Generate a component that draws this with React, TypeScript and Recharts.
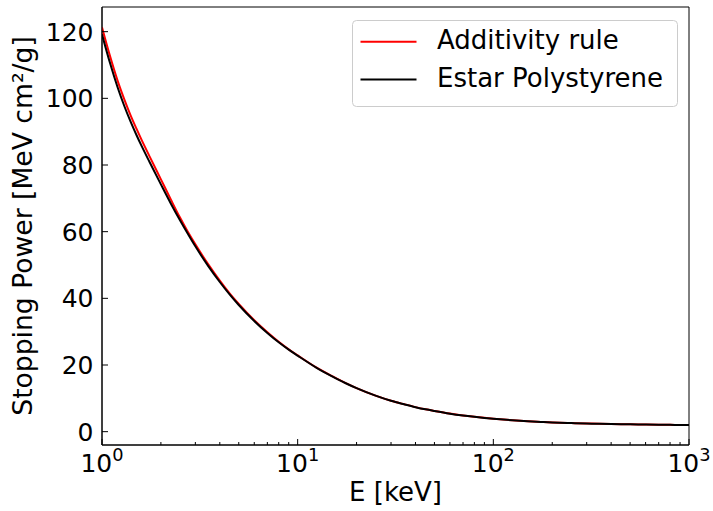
import React from 'react';
import { LineChart, Line, XAxis, YAxis, Legend, ReferenceArea, Label } from 'recharts';

// ---- data ----
const energies = [1, 1.1, 1.2, 1.3, 1.4, 1.5, 1.6, 1.75, 2, 2.25, 2.5, 2.75, 3, 3.5, 4, 4.5, 5, 6, 7, 8, 9, 10, 12.5, 15, 17.5, 20, 25, 30, 35, 40, 45, 50, 60, 70, 80, 90, 100, 125, 150, 175, 200, 250, 300, 350, 400, 450, 500, 600, 700, 800, 900, 1000];

const estarPolystyrene = [119.2, 110.5, 103.4, 97.7, 93.0, 89.0, 85.5, 80.9, 74.2, 68.4, 63.5, 59.3, 55.6, 49.6, 44.9, 41.1, 38.0, 33.2, 29.6, 26.8, 24.6, 22.8, 19.15, 16.6, 14.6, 13.05, 10.8, 9.25, 8.2, 7.35, 6.7, 6.2, 5.4, 4.85, 4.45, 4.13, 3.88, 3.42, 3.12, 2.92, 2.77, 2.57, 2.44, 2.35, 2.28, 2.23, 2.19, 2.13, 2.08, 2.04, 2.01, 1.98];

const additivityRule = [121.3, 112.6, 105.4, 99.7, 94.9, 90.9, 87.3, 82.6, 75.7, 69.6, 64.3, 59.9, 56.2, 50.1, 45.3, 41.4, 38.3, 33.4, 29.8, 26.95, 24.7, 22.9, 19.2, 16.65, 14.63, 13.08, 10.82, 9.27, 8.22, 7.37, 6.72, 6.22, 5.42, 4.87, 4.46, 4.14, 3.89, 3.43, 3.13, 2.93, 2.78, 2.58, 2.45, 2.36, 2.29, 2.24, 2.2, 2.14, 2.09, 2.05, 2.02, 1.99];

const seriesNames = ['Additivity rule', 'Estar Polystyrene'];
const seriesColors = ['#ff0000', '#000000'];

const xMajorTicks = [1, 10, 100, 1000];
const yTicks = [0, 20, 40, 60, 80, 100, 120];
const yDomain = [-4.0, 127.4];
const xDomain = [1, 1000];

const xLabel = 'E [keV]';
const yLabel = 'Stopping Power [MeV cm\u00b2/g]';

// ---- derived ----
const data = energies.map((e, i) => ({ e, additivity: additivityRule[i], estar: estarPolystyrene[i] }));
const xAllTicks: number[] = [];
xMajorTicks.forEach((m, i) => {
  xAllTicks.push(m);
  if (i < xMajorTicks.length - 1) {
    for (let k = 2; k <= 9; k++) xAllTicks.push(m * k);
  }
});

const FONT = '"DejaVu Sans", sans-serif';
const FS_TICK = 25;
const FS_LABEL = 26;

const XTick = (props: any) => {
  const { x, y, payload } = props;
  const v = payload.value;
  const exp = Math.log10(v);
  const isMajor = Math.abs(exp - Math.round(exp)) < 1e-6;
  return (
    <g>
      <line x1={x} y1={y} x2={x} y2={y - (isMajor ? 6 : 3)} stroke="#000" strokeWidth={1} />
      {isMajor && (
        <text x={x} y={y + 26.7} textAnchor="middle" fontSize={FS_TICK} fontFamily={FONT} fill="#000">
          10
          <tspan dy={-10.5} fontSize={17.8}>{Math.round(exp)}</tspan>
        </text>
      )}
    </g>
  );
};

const YTick = (props: any) => {
  const { x, y, payload } = props;
  return (
    <g>
      <line x1={x} y1={y} x2={x + 6} y2={y} stroke="#000" strokeWidth={1} />
      <text x={x - 8.5} y={y + 9} textAnchor="end" fontSize={FS_TICK} fontFamily={FONT} fill="#000">
        {payload.value}
      </text>
    </g>
  );
};

const YLabelContent = (props: any) => {
  const vb = props.viewBox || {};
  const cx = vb.x + 32;
  const cy = vb.y + vb.height / 2;
  return (
    <text
      x={cx}
      y={cy}
      transform={`rotate(-90, ${cx}, ${cy})`}
      textAnchor="middle"
      fontSize={26.6}
      fontFamily={FONT}
      fill="#000"
    >
      {yLabel}
    </text>
  );
};

const XLabelContent = (props: any) => {
  const vb = props.viewBox || {};
  const cx = vb.x + vb.width / 2;
  return (
    <text x={cx} y={vb.y + 56} textAnchor="middle" fontSize={FS_LABEL} fontFamily={FONT} fill="#000">
      {xLabel}
    </text>
  );
};

const LegendContent = (props: any) => {
  const payload = props.payload || [];
  const W = 325;
  const H = 86;
  return (
    <svg width={W + 2} height={H + 2} style={{ display: 'block' }}>
      <rect x={0.5} y={0.5} width={W} height={H} rx={4} ry={4} fill="#fff" fillOpacity={0.8} stroke="#cccccc" strokeWidth={1} />
      {payload.map((p: any, i: number) => {
        const cy = 21.8 + i * 37.7;
        return (
          <g key={i}>
            <line x1={8.5} y1={cy} x2={64.5} y2={cy} stroke={p.color} strokeWidth={2} />
            <text x={85} y={cy + 7} fontSize={FS_LABEL} fontFamily={FONT} fill="#000">
              {p.value}
            </text>
          </g>
        );
      })}
    </svg>
  );
};

export default function App() {
  return (
    <div style={{ position: 'absolute', left: 0, top: 0, width: 713, height: 511, background: '#fff' }}>
      <LineChart
        width={713}
        height={511}
        data={data}
        margin={{ top: 7, right: 24, left: 0, bottom: 0 }}
      >
        <XAxis
          dataKey="e"
          type="number"
          scale="log"
          domain={xDomain}
          ticks={xAllTicks}
          interval={0}
          allowDataOverflow
          height={66}
          tickSize={0}
          tickMargin={0}
          tickLine={false}
          tick={<XTick />}
          axisLine={{ stroke: '#000', strokeWidth: 1 }}
        >
          <Label content={<XLabelContent />} />
        </XAxis>
        <YAxis
          type="number"
          domain={yDomain}
          ticks={yTicks}
          interval={0}
          allowDataOverflow
          width={102}
          tickSize={0}
          tickMargin={0}
          tickLine={false}
          tick={<YTick />}
          axisLine={{ stroke: '#000', strokeWidth: 1 }}
        >
          <Label content={<YLabelContent />} />
        </YAxis>
        <Line
          type="monotone"
          dataKey="additivity"
          name={seriesNames[0]}
          stroke={seriesColors[0]}
          strokeWidth={2}
          dot={false}
          isAnimationActive={false}
        />
        <Line
          type="monotone"
          dataKey="estar"
          name={seriesNames[1]}
          stroke={seriesColors[1]}
          strokeWidth={2}
          dot={false}
          isAnimationActive={false}
        />
        <ReferenceArea
          x1={xDomain[0]}
          x2={xDomain[1]}
          y1={yDomain[0]}
          y2={yDomain[1]}
          fill="none"
          stroke="#000"
          strokeWidth={1}
          ifOverflow="visible"
        />
        <Legend
          layout="vertical"
          align="center"
          verticalAlign="middle"
          content={<LegendContent />}
          wrapperStyle={{ position: 'absolute', left: 352, top: 20, width: 327, height: 88 }}
        />
      </LineChart>
    </div>
  );
}
